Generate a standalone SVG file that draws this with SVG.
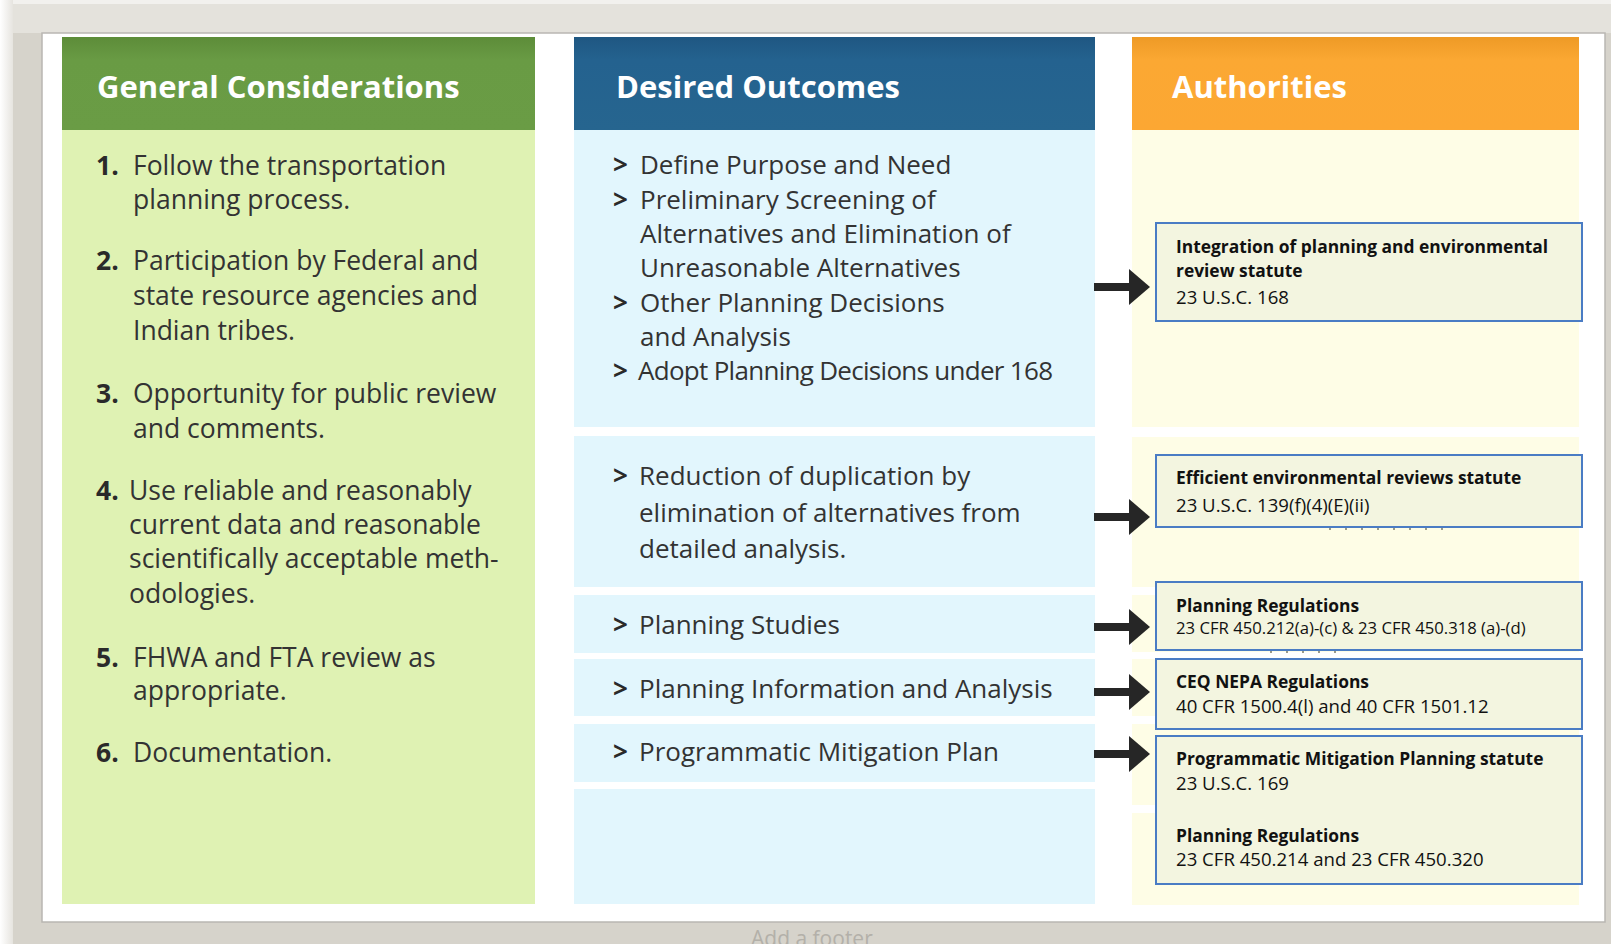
<svg xmlns="http://www.w3.org/2000/svg" width="1611" height="944" viewBox="0 0 1611 944">
<defs>
<style>
.t{font-family:"Open Sans","Noto Sans","Liberation Sans",sans-serif;font-size:26.5px;fill:#333333}
.m{font-size:26px}
.n{font-weight:bold;fill:#2a2a2a}
.h{font-family:"Open Sans","Noto Sans","Liberation Sans",sans-serif;font-weight:bold;font-size:31px;fill:#ffffff}
.box{fill:#f3f5e0;stroke:#4a7cc4;stroke-width:2}
.bt{font-family:"Open Sans","Noto Sans","Liberation Sans",sans-serif;font-size:18.6px;fill:#111111}
.bb{font-weight:bold;font-size:17.4px}
.sm{font-size:16.7px}
.gc{fill:#dff2b3}
.bc{fill:#e2f6fd}
.yc{fill:#fefde6}
.arr{stroke:#262626;stroke-width:8;fill:none;marker-end:url(#ah)}
</style>
<marker id="ah" markerUnits="userSpaceOnUse" markerWidth="22" markerHeight="36" refX="0" refY="18" orient="auto">
<path d="M0,0 L21,18 L0,36 Z" fill="#262626"/>
</marker>
<linearGradient id="gg" x1="0" y1="0" x2="0" y2="1">
<stop offset="0" stop-color="#5d8c39"/><stop offset="0.25" stop-color="#699b44"/><stop offset="1" stop-color="#6a9c45"/>
</linearGradient>
<linearGradient id="bg" x1="0" y1="0" x2="0" y2="1">
<stop offset="0" stop-color="#1f5782"/><stop offset="0.25" stop-color="#24628f"/><stop offset="1" stop-color="#26658f"/>
</linearGradient>
<linearGradient id="og" x1="0" y1="0" x2="0" y2="1">
<stop offset="0" stop-color="#ee9a26"/><stop offset="0.25" stop-color="#fba833"/><stop offset="1" stop-color="#fca733"/>
</linearGradient>
<linearGradient id="ls" x1="0" y1="0" x2="1" y2="0">
<stop offset="0" stop-color="#ffffff"/><stop offset="1" stop-color="#e6e4df"/>
</linearGradient>
</defs>

<g id="frame">
<rect x="0" y="0" width="1611" height="944" fill="#d6d3cb"/>
<rect x="0" y="0" width="1611" height="4" fill="#f2f1ee"/>
<rect x="0" y="0" width="13" height="944" fill="url(#ls)"/>
<rect x="13" y="4" width="1598" height="29" fill="#e4e2dc"/>
<rect x="42" y="33" width="1563" height="889" fill="#ffffff" stroke="#b9b7b2" stroke-width="1.5"/>
<text x="751" y="946" style="font-family:'Open Sans','Liberation Sans',sans-serif;font-size:21px;fill:#b3b0a9">Add a footer</text>
</g>

<g id="col-general">
<rect x="62" y="37" width="473" height="93" fill="url(#gg)"/>
<rect class="gc" x="62" y="130" width="473" height="774"/>
<text class="h" x="97" y="98">General Considerations</text>
<text class="t"><tspan class="n" x="96" y="175">1.</tspan><tspan x="133" y="175">Follow the transportation</tspan><tspan x="133" y="209">planning process.</tspan></text>
<text class="t"><tspan class="n" x="96" y="270">2.</tspan><tspan x="133" y="270">Participation by Federal and</tspan><tspan x="133" y="305">state resource agencies and</tspan><tspan x="133" y="340">Indian tribes.</tspan></text>
<text class="t"><tspan class="n" x="96" y="403">3.</tspan><tspan x="133" y="403">Opportunity for public review</tspan><tspan x="133" y="438">and comments.</tspan></text>
<text class="t"><tspan class="n" x="96" y="500">4.</tspan><tspan x="129" y="500">Use reliable and reasonably</tspan><tspan x="129" y="534">current data and reasonable</tspan><tspan x="129" y="568">scientifically acceptable meth-</tspan><tspan x="129" y="603">odologies.</tspan></text>
<text class="t"><tspan class="n" x="96" y="667">5.</tspan><tspan x="133" y="667">FHWA and FTA review as</tspan><tspan x="133" y="700">appropriate.</tspan></text>
<text class="t"><tspan class="n" x="96" y="762">6.</tspan><tspan x="133" y="762">Documentation.</tspan></text>
</g>

<g id="col-outcomes">
<rect x="574" y="37" width="521" height="93" fill="url(#bg)"/>
<text class="h" x="616" y="98">Desired Outcomes</text>
<g id="outcome-1">
<rect class="bc" x="574" y="130" width="521" height="297"/>
<text class="t m"><tspan class="n" x="613" y="174">&gt;</tspan><tspan x="640" y="174">Define Purpose and Need</tspan></text>
<text class="t m"><tspan class="n" x="613" y="209">&gt;</tspan><tspan x="640" y="209">Preliminary Screening of</tspan><tspan x="640" y="243">Alternatives and Elimination of</tspan><tspan x="640" y="277">Unreasonable Alternatives</tspan></text>
<text class="t m"><tspan class="n" x="613" y="312">&gt;</tspan><tspan x="640" y="312">Other Planning Decisions</tspan><tspan x="640" y="346">and Analysis</tspan></text>
<text class="t m" x="613" y="380"><tspan class="n">&gt;</tspan></text>
<text class="t m" x="638" y="380" textLength="415" lengthAdjust="spacing">Adopt Planning Decisions under 168</text>
</g>
<g id="outcome-2">
<rect class="bc" x="574" y="436" width="521" height="151"/>
<text class="t m"><tspan class="n" x="613" y="485">&gt;</tspan><tspan x="639" y="485">Reduction of duplication by</tspan><tspan x="639" y="522">elimination of alternatives from</tspan><tspan x="639" y="558">detailed analysis.</tspan></text>
</g>
<g id="outcome-3">
<rect class="bc" x="574" y="595" width="521" height="58"/>
<text class="t m"><tspan class="n" x="613" y="634">&gt;</tspan><tspan x="639" y="634">Planning Studies</tspan></text>
</g>
<g id="outcome-4">
<rect class="bc" x="574" y="659" width="521" height="57"/>
<text class="t m"><tspan class="n" x="613" y="698">&gt;</tspan><tspan x="639" y="698">Planning Information and Analysis</tspan></text>
</g>
<g id="outcome-5">
<rect class="bc" x="574" y="724" width="521" height="58"/>
<text class="t m"><tspan class="n" x="613" y="761">&gt;</tspan><tspan x="639" y="761">Programmatic Mitigation Plan</tspan></text>
</g>
<rect class="bc" x="574" y="789" width="521" height="115"/>
</g>

<g id="col-authorities">
<rect x="1132" y="37" width="447" height="93" fill="url(#og)"/>
<text class="h" x="1172" y="98">Authorities</text>
<rect class="yc" x="1132" y="130" width="447" height="297"/>
<rect class="yc" x="1132" y="437" width="447" height="150"/>
<rect class="yc" x="1132" y="595" width="447" height="57"/>
<rect class="yc" x="1132" y="659" width="447" height="57"/>
<rect class="yc" x="1132" y="724" width="447" height="81"/>
<rect class="yc" x="1132" y="813" width="447" height="92"/>
</g>

<g id="auth-1">
<rect class="box" x="1156" y="223" width="426" height="98"/>
<text class="bt"><tspan class="bb" x="1176" y="253">Integration of planning and environmental</tspan><tspan class="bb" x="1176" y="277">review statute</tspan><tspan x="1176" y="304">23 U.S.C. 168</tspan></text>
</g>
<g id="auth-2">
<rect class="box" x="1156" y="455" width="426" height="72"/>
<text class="bt"><tspan class="bb" x="1176" y="484">Efficient environmental reviews statute</tspan><tspan x="1176" y="512">23 U.S.C. 139(f)(4)(E)(ii)</tspan></text>
<line x1="1329" y1="529" x2="1445" y2="529" stroke="#9a9a8a" stroke-width="2" stroke-dasharray="2 14"/>
</g>
<g id="auth-3">
<rect class="box" x="1156" y="582" width="426" height="68"/>
<text class="bt"><tspan class="bb" x="1176" y="612">Planning Regulations</tspan><tspan class="sm" x="1176" y="634">23 CFR 450.212(a)-(c) &amp; 23 CFR 450.318 (a)-(d)</tspan></text>
<line x1="1270" y1="652" x2="1336" y2="652" stroke="#9a9a8a" stroke-width="2" stroke-dasharray="2 14"/>
</g>
<g id="auth-4">
<rect class="box" x="1156" y="659" width="426" height="70"/>
<text class="bt"><tspan class="bb" x="1176" y="688">CEQ NEPA Regulations</tspan><tspan x="1176" y="713">40 CFR 1500.4(l) and 40 CFR 1501.12</tspan></text>
</g>
<g id="auth-5">
<rect class="box" x="1156" y="736" width="426" height="148"/>
<text class="bt"><tspan class="bb" x="1176" y="765">Programmatic Mitigation Planning statute</tspan><tspan x="1176" y="790">23 U.S.C. 169</tspan><tspan class="bb" x="1176" y="842">Planning Regulations</tspan><tspan x="1176" y="866">23 CFR 450.214 and 23 CFR 450.320</tspan></text>
</g>

<g id="connectors">
<line class="arr" x1="1094" y1="287" x2="1129" y2="287"/>
<line class="arr" x1="1094" y1="517" x2="1129" y2="517"/>
<line class="arr" x1="1094" y1="627" x2="1129" y2="627"/>
<line class="arr" x1="1094" y1="692" x2="1129" y2="692"/>
<line class="arr" x1="1094" y1="754" x2="1129" y2="754"/>
</g>
</svg>
